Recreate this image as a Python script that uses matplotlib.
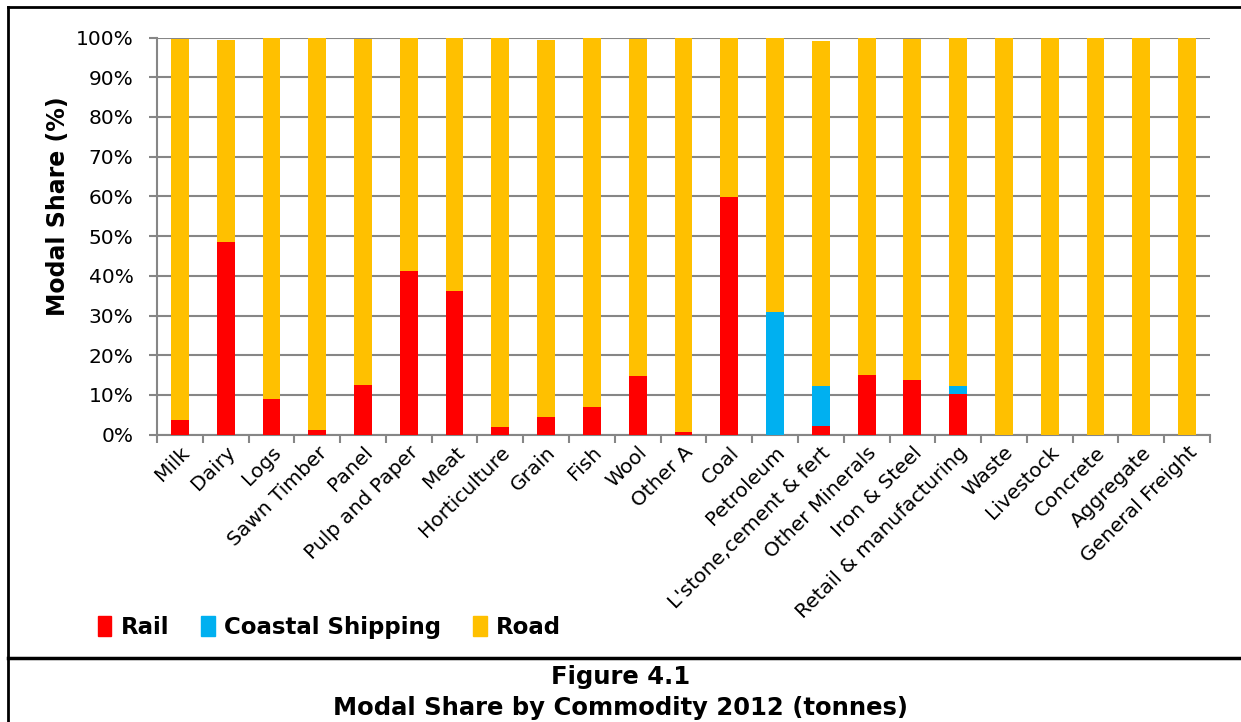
import numpy as np
import matplotlib.pyplot as plt
from matplotlib.lines import Line2D
from matplotlib.patches import Patch
from matplotlib.ticker import PercentFormatter, MultipleLocator

# Données (parts modales, %)
commodities = ["Milk", "Dairy", "Logs", "Sawn Timber", "Panel", "Pulp and Paper",
               "Meat", "Horticulture", "Grain", "Fish", "Wool", "Other A", "Coal",
               "Petroleum", "L'stone,cement & fert", "Other Minerals", "Iron & Steel",
               "Retail & manufacturing", "Waste", "Livestock", "Concrete",
               "Aggregate", "General Freight"]
rail = [3.7, 48.5, 8.9, 1.1, 12.6, 41.2, 36.1, 1.9, 4.4, 6.9, 14.7, 0.6, 59.8,
        0.0, 2.3, 14.9, 13.7, 10.3, 0, 0, 0, 0, 0]
coastal = [0, 0, 0, 0, 0, 0, 0, 0, 0, 0, 0, 0, 0,
           30.9, 10.0, 0, 0, 2.0, 0, 0, 0, 0, 0]
road = [95.9, 50.9, 91.1, 98.9, 87.1, 58.8, 63.9, 98.1, 95.1, 93.1, 84.9, 99.4, 40.2,
        69.1, 86.9, 85.1, 86.0, 87.7, 100, 100, 100, 100, 100]

RED = "#FF0000"
BLUE = "#00B0F0"
GOLD = "#FFC000"
GRID = "#868686"

plt.rcParams['font.family'] = ['DejaVu Sans']

fig = plt.figure(figsize=(12.41, 7.22), dpi=100)
ax = fig.add_axes([0.1265, 0.398, 0.8485, 0.55])

x = np.arange(len(commodities))
rail = np.array(rail)
coastal = np.array(coastal)
road = np.array(road)
w = 0.39
ax.bar(x, rail, w, color=RED, zorder=3)
ax.bar(x, coastal, w, bottom=rail, color=BLUE, zorder=3)
ax.bar(x, road, w, bottom=rail + coastal, color=GOLD, zorder=3)

ax.set_xlim(-0.5, len(commodities) - 0.5)
ax.set_ylim(0, 100)
ax.yaxis.set_major_locator(MultipleLocator(10))
ax.yaxis.set_major_formatter(PercentFormatter(decimals=0))
ax.grid(axis='y', color=GRID, linewidth=1.5, zorder=0)

for s in ['top', 'right']:
    ax.spines[s].set_visible(False)
for s in ['left', 'bottom']:
    ax.spines[s].set_color(GRID)
    ax.spines[s].set_linewidth(1.5)

ax.tick_params(axis='y', length=6, width=1.5, color=GRID, labelsize=14.5, pad=11)
ax.set_xticks(x)
ax.set_xticks(np.arange(-0.5, len(commodities), 1), minor=True)
ax.tick_params(axis='x', which='major', length=0, pad=6)
ax.tick_params(axis='x', which='minor', length=6, width=1.5, color=GRID)
ax.set_xticklabels(commodities, rotation=45, ha='right', rotation_mode='anchor',
                   fontsize=14.5)

ax.set_ylabel("Modal Share (%)", fontsize=17, fontweight='bold')
ax.yaxis.set_label_coords(-0.083, 0.575)

handles = [Patch(color=RED, label="Rail"),
           Patch(color=BLUE, label="Coastal Shipping"),
           Patch(color=GOLD, label="Road")]
fig.legend(handles=handles, loc='center left', bbox_to_anchor=(0.062, 0.131),
           ncol=3, frameon=False, handlelength=0.6, handleheight=1.0,
           handletextpad=0.4, columnspacing=1.4,
           prop={'weight': 'bold', 'size': 16.5})

# Cadre et titre
lw = 2
fig.add_artist(Line2D([8 / 1241, 8 / 1241], [0, 1 - 7 / 722], color='black', lw=lw,
                      transform=fig.transFigure))
fig.add_artist(Line2D([8 / 1241, 1], [1 - 7 / 722, 1 - 7 / 722], color='black', lw=lw,
                      transform=fig.transFigure))
fig.add_artist(Line2D([8 / 1241, 1], [1 - 658 / 722, 1 - 658 / 722], color='black',
                      lw=2.5, transform=fig.transFigure))

fig.text(0.5, 1 - 677 / 722, "Figure 4.1", ha='center', va='center',
         fontsize=17.5, fontweight='bold')
fig.text(0.5, 1 - 708 / 722, "Modal Share by Commodity 2012 (tonnes)", ha='center',
         va='center', fontsize=17.5, fontweight='bold')

plt.savefig("out.png", dpi=100)
